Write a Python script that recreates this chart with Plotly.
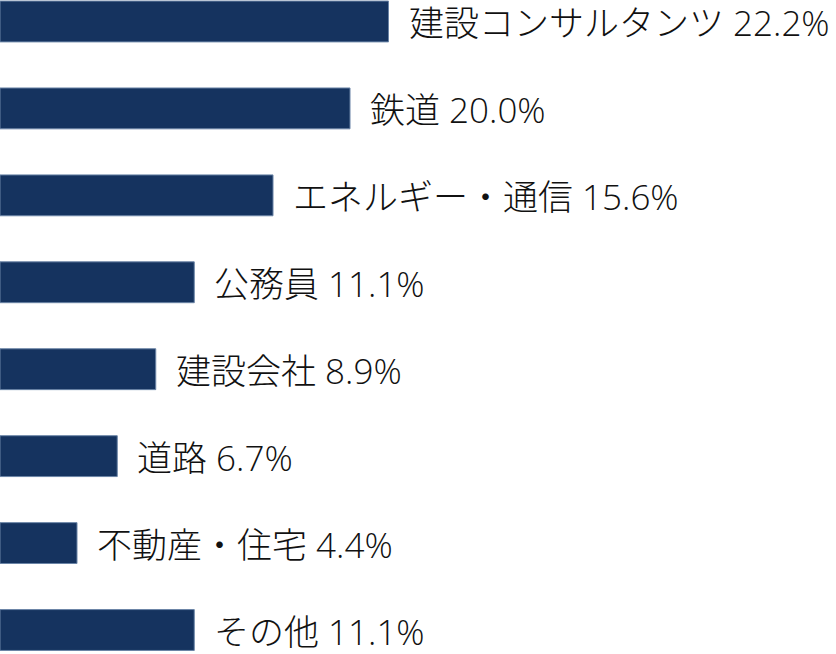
import plotly.graph_objects as go

categories = ["建設コンサルタンツ", "鉄道", "エネルギー・通信", "公務員", "建設会社", "道路", "不動産・住宅", "その他"]
values = [22.2, 20.0, 15.6, 11.1, 8.9, 6.7, 4.4, 11.1]

positions = list(range(len(categories)))
labels = [f"{c} {v:.1f}%" for c, v in zip(categories, values)]

fig = go.Figure()
fig.add_trace(go.Bar(
    x=values, y=positions, orientation="h",
    width=0.47,
    marker=dict(color="#15335f", line=dict(color="#6a84a6", width=1)),
    hoverinfo="skip",
))

for p, v, t in zip(positions, values, labels):
    fig.add_annotation(
        x=v, y=p, text=t, xanchor="left", yanchor="middle",
        showarrow=False, xshift=19, yshift=-1, borderpad=0,
        font=dict(family="Open Sans, Noto Sans CJK JP", size=35, color="#111111", weight=300),
    )

fig.update_layout(
    width=836, height=654,
    margin=dict(l=0, r=0, t=0, b=0),
    paper_bgcolor="white", plot_bgcolor="white",
    showlegend=False,
    xaxis=dict(range=[0, 47.77], visible=False, fixedrange=True),
    yaxis=dict(range=[7.276, -0.247], visible=False, fixedrange=True),
)

fig.write_html("out.html", config={"displayModeBar": False},
               post_script="document.body.style.margin='0';document.body.style.overflow='hidden';")
